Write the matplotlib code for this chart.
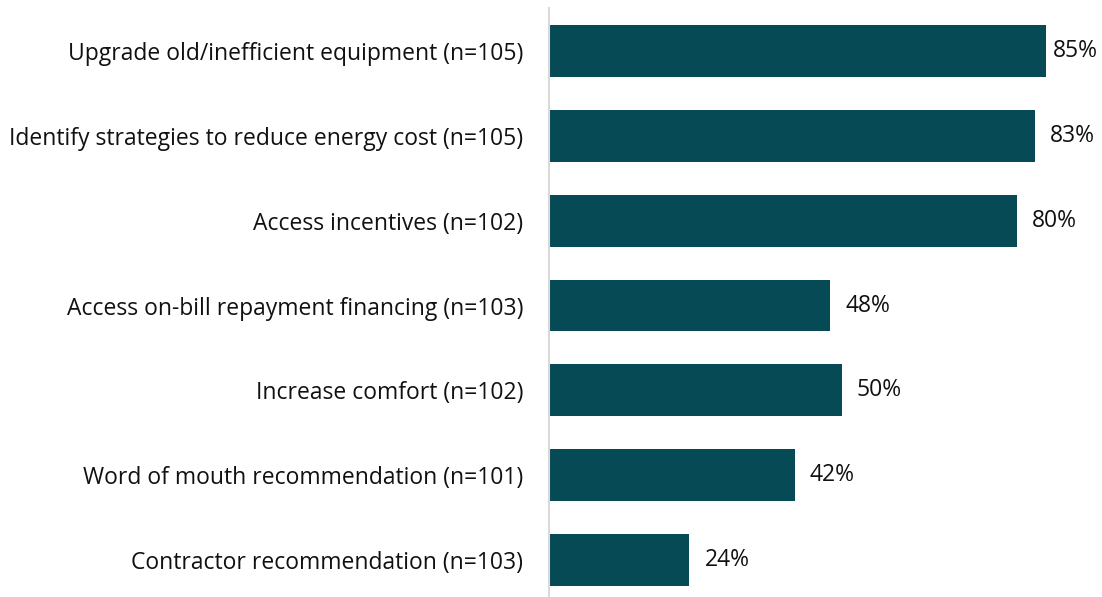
import matplotlib
matplotlib.use("Agg")
import matplotlib.pyplot as plt
from matplotlib.transforms import blended_transform_factory

categories = [
    "Upgrade old/inefficient equipment (n=105)",
    "Identify strategies to reduce energy cost (n=105)",
    "Access incentives (n=102)",
    "Access on-bill repayment financing (n=103)",
    "Increase comfort (n=102)",
    "Word of mouth recommendation (n=101)",
    "Contractor recommendation (n=103)",
]
values = [85, 83, 80, 48, 50, 42, 24]

plt.rcParams["font.family"] = ["Open Sans", "DejaVu Sans"]
FS = 16.5
TXT = "#111111"

W, H = 1102, 597
fig = plt.figure(figsize=(W / 100, H / 100), dpi=100)
ax = fig.add_axes([549 / W, 0, 1 - 549 / W, (H - 8) / H])

pos = list(range(len(categories)))
ax.barh(pos, values, height=0.61, color="#064A55")

ax.set_xlim(0, (W - 549) / 5.85)
ax.set_ylim(6.436, -0.507)

ax.set_yticks(pos)
ax.set_yticklabels(categories, fontsize=FS, color=TXT)
ax.tick_params(axis="y", length=0, pad=18.5)
ax.set_xticks([])

for s in ["top", "right", "bottom"]:
    ax.spines[s].set_visible(False)
ax.spines["left"].set_color("#D9D9D9")
ax.spines["left"].set_linewidth(1.5)

# value labels sit just past each bar, but are kept inside the figure edge
labels = []
for p, v in zip(pos, values):
    t = ax.annotate(f"{v}%", xy=(v, p), xytext=(11, 0), textcoords="offset points",
                    va="center", ha="left", fontsize=FS, color=TXT,
                    annotation_clip=False)
    labels.append(t)

fig.canvas.draw()
renderer = fig.canvas.get_renderer()
edge = W - 4
edge_trans = blended_transform_factory(fig.transFigure, ax.transData)
for t, p in zip(labels, pos):
    bb = t.get_window_extent(renderer)
    if bb.x1 > edge:
        t.remove()
        ax.text(edge / W, p, t.get_text(), transform=edge_trans,
                va="center", ha="right", fontsize=FS, color=TXT)

fig.savefig("out.png", dpi=100)
